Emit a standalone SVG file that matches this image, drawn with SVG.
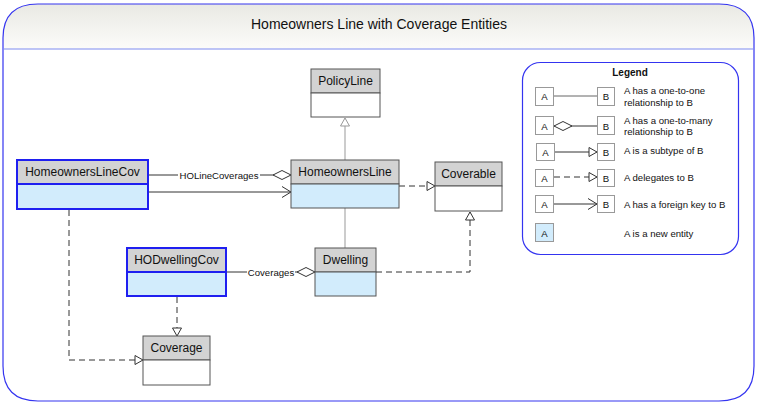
<svg xmlns="http://www.w3.org/2000/svg" width="757" height="404" viewBox="0 0 757 404">
<style>
text{font-family:"Liberation Sans",Arial,sans-serif;fill:#111}
.title{font-size:14px;text-anchor:middle}
.nm{font-size:12px;text-anchor:middle}
.lbl{font-size:9.6px;text-anchor:middle}
.lg{font-size:9.6px}
.lgc{font-size:9.6px;text-anchor:middle}
.hdr{fill:#d3d3d3;stroke:#555;stroke-width:1}
.bdy{fill:#fff;stroke:#555;stroke-width:1}
.bdyn{fill:#d2ecfc;stroke:#555;stroke-width:1}
.hdrb{fill:#d3d3d3;stroke:#1f1ff0;stroke-width:2}
.bdyb{fill:#d2ecfc;stroke:#1f1ff0;stroke-width:2}
.ln{fill:none;stroke:#333;stroke-width:1}
.gl{fill:none;stroke:#999;stroke-width:1}
.ds{fill:none;stroke:#333;stroke-width:1;stroke-dasharray:6 4}
.lbx{fill:#fff;stroke:#999;stroke-width:1}
</style>
<defs>
<linearGradient id="tg" x1="0" y1="0" x2="0" y2="1">
<stop offset="0" stop-color="#e9e9e3"/>
<stop offset="1" stop-color="#fcfcfa"/>
</linearGradient>
<marker id="tri" markerUnits="userSpaceOnUse" markerWidth="12" markerHeight="12" refX="9" refY="5" orient="auto">
<path d="M1,0.5 L9,5 L1,9.5 Z" fill="#fff" stroke="#333" stroke-width="1"/>
</marker>
<marker id="trig" markerUnits="userSpaceOnUse" markerWidth="12" markerHeight="12" refX="9" refY="5" orient="auto">
<path d="M1,0.5 L9,5 L1,9.5 Z" fill="#fff" stroke="#999" stroke-width="1"/>
</marker>
<marker id="dia" markerUnits="userSpaceOnUse" markerWidth="20" markerHeight="12" refX="18" refY="5" orient="auto">
<path d="M0,5 L9,0.5 L18,5 L9,9.5 Z" fill="#fff" stroke="#333" stroke-width="1"/>
</marker>
<marker id="arr" markerUnits="userSpaceOnUse" markerWidth="12" markerHeight="14" refX="10" refY="6" orient="auto">
<path d="M1,0.5 L10,6 L1,11.5" fill="none" stroke="#333" stroke-width="1"/>
</marker>
</defs>

<g id="frame">
<path d="M3,49 L3,38 Q3,4 38,4 L719,4 Q754,4 754,38 L754,49 Z" fill="url(#tg)"/>
<path d="M3,49 L3,366 Q3,401 38,401 L719,401 Q754,401 754,366 L754,49" fill="#fff"/>
<path d="M3,38 Q3,4 38,4 L719,4 Q754,4 754,38 L754,366 Q754,401 719,401 L38,401 Q3,401 3,366 Z" fill="none" stroke="#3434f0" stroke-width="1.2"/>
<line x1="3" y1="49" x2="754" y2="49" stroke="#7f8cf0" stroke-width="1"/>
<text class="title" x="379" y="29">Homeowners Line with Coverage Entities</text>
</g>

<g id="connectors">
<line class="gl" x1="345" y1="160" x2="345" y2="118" marker-end="url(#trig)"/>
<line class="gl" x1="345" y1="208" x2="345" y2="248"/>
<line class="ds" x1="399" y1="186" x2="435" y2="186" marker-end="url(#tri)"/>
<polyline class="ds" points="376,272 470,272 470,212" marker-end="url(#tri)"/>
<line class="ln" x1="148" y1="175" x2="291" y2="175" marker-end="url(#dia)"/>
<rect x="178" y="169" width="82" height="12" fill="#fff"/>
<text class="lbl" x="219" y="179">HOLineCoverages</text>
<line class="ln" x1="148" y1="192" x2="291" y2="192" marker-end="url(#arr)"/>
<line class="ln" x1="226" y1="272" x2="315" y2="272" marker-end="url(#dia)"/>
<rect x="247" y="266" width="48" height="12" fill="#fff"/>
<text class="lbl" x="271" y="276">Coverages</text>
<line class="ds" x1="177" y1="297" x2="177" y2="336" marker-end="url(#tri)"/>
<polyline class="ds" points="69,210 69,360 143,360" marker-end="url(#tri)"/>
</g>

<g id="PolicyLine">
<rect class="hdr" x="311" y="69" width="69" height="24"/>
<rect class="bdy" x="311" y="93" width="69" height="24"/>
<text class="nm" x="345.5" y="85">PolicyLine</text>
</g>
<g id="HomeownersLine">
<rect class="hdr" x="291" y="160" width="108" height="24"/>
<rect class="bdyn" x="291" y="184" width="108" height="24"/>
<text class="nm" x="345" y="176">HomeownersLine</text>
</g>
<g id="Coverable">
<rect class="hdr" x="435" y="162" width="67" height="24"/>
<rect class="bdy" x="435" y="186" width="67" height="25"/>
<text class="nm" x="468.5" y="178">Coverable</text>
</g>
<g id="HomeownersLineCov">
<rect class="hdrb" x="17" y="160" width="131" height="24"/>
<rect class="bdyb" x="17" y="184" width="131" height="25"/>
<text class="nm" x="82.5" y="176">HomeownersLineCov</text>
</g>
<g id="HODwellingCov">
<rect class="hdrb" x="127" y="248" width="99" height="24"/>
<rect class="bdyb" x="127" y="272" width="99" height="24"/>
<text class="nm" x="176.5" y="264">HODwellingCov</text>
</g>
<g id="Dwelling">
<rect class="hdr" x="315" y="248" width="61" height="24"/>
<rect class="bdyn" x="315" y="272" width="61" height="24"/>
<text class="nm" x="345.5" y="264">Dwelling</text>
</g>
<g id="Coverage">
<rect class="hdr" x="143" y="336" width="67" height="24"/>
<rect class="bdy" x="143" y="360" width="67" height="25"/>
<text class="nm" x="176.5" y="352">Coverage</text>
</g>

<g id="legend">
<rect x="522.5" y="62.5" width="216" height="192" rx="18" fill="#fff" stroke="#3434f0" stroke-width="1.2"/>
<text x="630" y="76" font-size="10" font-weight="bold" text-anchor="middle" style="font-family:'Liberation Sans',Arial,sans-serif">Legend</text>
<line class="gl" x1="553" y1="96" x2="597" y2="96" style="stroke:#666"/>
<rect class="lbx" x="535.5" y="87.5" width="18" height="18"/>
<rect class="lbx" x="597.5" y="87.5" width="17" height="18"/>
<text class="lgc" x="544.5" y="100">A</text>
<text class="lgc" x="606" y="100">B</text>
<text class="lg" x="624" y="94">A has a one-to-one</text>
<text class="lg" x="624" y="106">relationship to B</text>

<line class="ln" x1="554" y1="126" x2="597" y2="126"/>
<path d="M554,126 L563,121.5 L572,126 L563,130.5 Z" fill="#fff" stroke="#333"/>
<rect class="lbx" x="535.5" y="116.5" width="18" height="18"/>
<rect class="lbx" x="597.5" y="116.5" width="17" height="18"/>
<text class="lgc" x="544.5" y="129.5">A</text>
<text class="lgc" x="606" y="129.5">B</text>
<text class="lg" x="624" y="124">A has a one-to-many</text>
<text class="lg" x="624" y="135">relationship to B</text>

<line class="ln" x1="555" y1="152" x2="597" y2="152" marker-end="url(#tri)"/>
<rect class="lbx" x="536.5" y="143.5" width="18" height="17"/>
<rect class="lbx" x="597.5" y="143.5" width="17" height="17"/>
<text class="lgc" x="545.5" y="156">A</text>
<text class="lgc" x="606" y="156">B</text>
<text class="lg" x="624" y="154">A is a subtype of  B</text>

<line class="ds" x1="554" y1="177" x2="597" y2="177" marker-end="url(#tri)"/>
<rect class="lbx" x="535.5" y="169.5" width="18" height="17"/>
<rect class="lbx" x="597.5" y="169.5" width="17" height="17"/>
<text class="lgc" x="544.5" y="181.5">A</text>
<text class="lgc" x="606" y="181.5">B</text>
<text class="lg" x="624" y="181">A delegates to B</text>

<line class="ln" x1="554" y1="204" x2="597" y2="204" marker-end="url(#arr)"/>
<rect class="lbx" x="535.5" y="195.5" width="18" height="17"/>
<rect class="lbx" x="597.5" y="195.5" width="17" height="17"/>
<text class="lgc" x="544.5" y="208">A</text>
<text class="lgc" x="606" y="208">B</text>
<text class="lg" x="624" y="208">A has a foreign key to B</text>

<rect x="535.5" y="223.5" width="18" height="18" fill="#d2ecfc" stroke="#999"/>
<text class="lgc" x="544.5" y="236.5">A</text>
<text class="lg" x="624" y="237">A is a new entity</text>
</g>
</svg>
